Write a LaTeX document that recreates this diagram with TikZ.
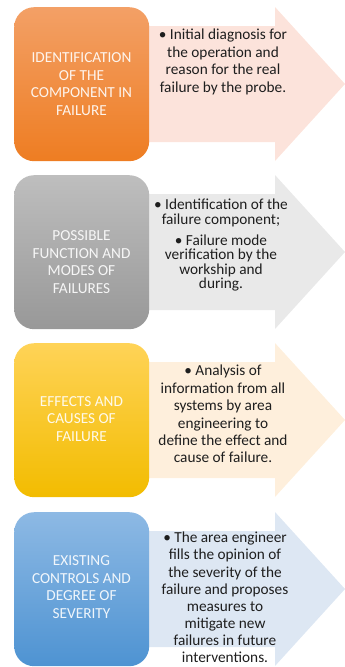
\documentclass[tikz,border=0pt]{standalone}
\usepackage{fontspec}
\setmainfont{Carlito}
\definecolor{orTop}{HTML}{F3A066}
\definecolor{orBot}{HTML}{EE7D22}
\definecolor{grTop}{HTML}{BEBEBE}
\definecolor{grBot}{HTML}{989898}
\definecolor{yeTop}{HTML}{FFD357}
\definecolor{yeBot}{HTML}{F2BC00}
\definecolor{blTop}{HTML}{8DB9E4}
\definecolor{blBot}{HTML}{4E93D2}
\definecolor{orArr}{HTML}{FCE3DB}
\definecolor{grArr}{HTML}{E9E9E9}
\definecolor{yeArr}{HTML}{FEEFDC}
\definecolor{blArr}{HTML}{DDE7F3}
\definecolor{txt}{HTML}{1E1E1E}
\begin{document}
\begin{tikzpicture}[x=1pt,y=-1pt,
  box/.style={rounded corners=20pt, minimum width=135pt, minimum height=154pt, inner sep=0pt, anchor=north west},
  boxtext/.style={text=white, text opacity=0.9, align=center, inner sep=0pt, font=\fontsize{15.3}{17.4}\selectfont},
  desc/.style={text=txt, align=center, anchor=north, inner sep=0pt, font=\fontsize{15.3}{17.4}\selectfont},
  ]
\useasboundingbox (0,0) rectangle (345,667);
\clip (0,0) rectangle (345,667);
% arrows
\fill[orArr] (140,26) -- (275,26) -- (275,7) -- (345,84) -- (275,161) -- (275,142) -- (140,142) -- cycle;
\fill[grArr] (140,194) -- (275,194) -- (275,175) -- (345,252) -- (275,329) -- (275,310) -- (140,310) -- cycle;
\fill[yeArr] (140,362) -- (275,362) -- (275,343) -- (345,420) -- (275,497) -- (275,478) -- (140,478) -- cycle;
\fill[blArr] (140,531) -- (275,531) -- (275,512) -- (345,589) -- (275,666) -- (275,647) -- (140,647) -- cycle;
% boxes
\node[box, top color=orTop, bottom color=orBot] (b1) at (14,7) {};
\node[box, top color=grTop, bottom color=grBot] (b2) at (14,175) {};
\node[box, top color=yeTop, bottom color=yeBot] (b3) at (14,343) {};
\node[box, top color=blTop, bottom color=blBot] (b4) at (14,512) {};
% box texts
\node[boxtext] (t1) at (81.5,84) {IDENTIFICATION\\OF THE\\COMPONENT IN\\FAILURE};
\node[boxtext] (t2) at (81.5,262) {POSSIBLE\\FUNCTION AND\\MODES OF\\FAILURES};
\node[boxtext] (t3) at (81.5,419) {EFFECTS AND\\CAUSES OF\\FAILURE};
\node[boxtext] (t4) at (81.5,587) {EXISTING\\CONTROLS AND\\DEGREE OF\\SEVERITY};
% descriptions
\node[desc] (d1) at (223,29) {• Initial diagnosis for\\the operation and\\reason for the real\\failure by the probe.};
\node[desc, font=\fontsize{15.3}{14.5}\selectfont] (d2) at (221,199) {• Identification of the\\failure component;\\[6.5pt]• Failure mode\\verification by the\\workship and\\during.};
\node[desc] (d3) at (223,365) {• Analysis of\\information from all\\systems by area\\engineering to\\define the effect and\\cause of failure.};
\node[desc, font=\fontsize{15.3}{17.1}\selectfont] (d4) at (225,532) {• The area engineer\\fills the opinion of\\the severity of the\\failure and proposes\\measures to\\mitigate new\\failures in future\\interventions.};
\end{tikzpicture}
\end{document}
